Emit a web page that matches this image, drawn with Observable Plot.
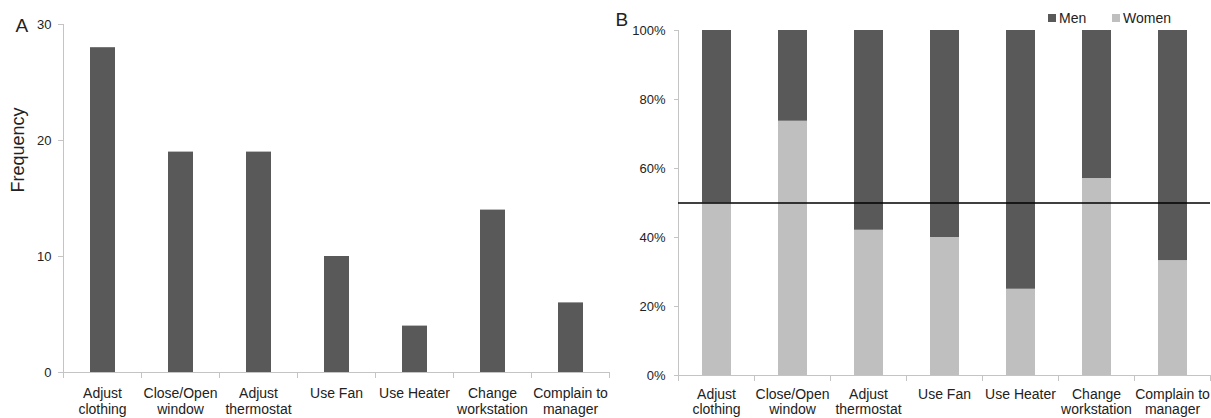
<!DOCTYPE html>
<html>
<head>
<meta charset="utf-8">
<script src="https://cdn.jsdelivr.net/npm/d3@7"></script>
<script src="https://cdn.jsdelivr.net/npm/@observablehq/plot@0.6"></script>
<style>
  html, body { margin: 0; padding: 0; background: #fff; }
  #wrap { position: relative; width: 1211px; height: 418px; font-family: "Liberation Sans", Arial, sans-serif; }
  #wrap svg { position: absolute; top: 0; font-family: "Liberation Sans", Arial, sans-serif; }
  .leg { position: absolute; top: 9px; font-size: 14px; color: #222; line-height: 18px; white-space: nowrap; }
  .sw { display: inline-block; width: 8px; height: 8px; margin-right: 3px; vertical-align: 1px; }
</style>
</head>
<body>
<div id="wrap"></div>
<script>
// ---- data ----
const categories = ["Adjust clothing", "Close/Open window", "Adjust thermostat", "Use Fan", "Use Heater", "Change workstation", "Complain to manager"];
const categoryLabels = ["Adjust\nclothing", "Close/Open\nwindow", "Adjust\nthermostat", "Use Fan", "Use Heater", "Change\nworkstation", "Complain to\nmanager"];
const frequency = [28, 19, 19, 10, 4, 14, 6];
const womenPct = [50, 73.7, 42.1, 40, 25, 57.1, 33.3];
const menPct = [50, 26.3, 57.9, 60, 75, 42.9, 66.7];
const freqTicks = [0, 10, 20, 30];
const pctTicks = [0, 20, 40, 60, 80, 100];
const seriesNames = ["Men", "Women"];
const seriesColors = ["#595959", "#bfbfbf"];

const axisGray = "#c4c4c4";
const textColor = "#222";
const labelMap = new Map(categories.map((c, i) => [c, categoryLabels[i]]));

const wrap = document.getElementById("wrap");

// ---- Panel A ----
const freqData = categories.map((c, i) => ({cat: c, value: frequency[i]}));
const lastCat = categories[categories.length - 1];

const plotA = Plot.plot({
  width: 620,
  height: 418,
  marginLeft: 63,
  marginRight: 11,
  marginTop: 24,
  marginBottom: 46,
  style: {fontSize: "13px", color: textColor, background: "transparent"},
  x: {domain: categories, padding: 0},
  y: {domain: [0, 30]},
  marks: [
    Plot.barY(freqData, {x: "cat", y: "value", fill: seriesColors[0], insetLeft: 27, insetRight: 26}),
    Plot.frame({anchor: "left", stroke: axisGray}),
    Plot.frame({anchor: "bottom", stroke: axisGray}),
    Plot.axisY({ticks: freqTicks, tickSize: 5, tickPadding: 7, stroke: axisGray, label: null, fill: textColor, fontSize: 13}),
    Plot.axisX({tickSize: 6, tickFormat: () => "", dx: -39, stroke: axisGray, label: null}),
    Plot.axisX({ticks: [lastCat], tickSize: 6, tickFormat: () => "", dx: 39, stroke: axisGray, label: null}),
    Plot.text(categories, {x: d => d, text: d => labelMap.get(d), frameAnchor: "bottom", dy: 14, lineAnchor: "top", lineHeight: 1.16, fontSize: 14, fill: textColor}),
    Plot.text(["A"], {frameAnchor: "top-left", dx: -48, dy: 1, textAnchor: "start", lineAnchor: "middle", fontSize: 19, fill: textColor}),
    Plot.text(["Frequency"], {frameAnchor: "left", dx: -45, dy: -6, rotate: -90, lineAnchor: "middle", fontSize: 18, fill: textColor})
  ]
});
plotA.style.left = "0px";
wrap.appendChild(plotA);

// ---- Panel B ----
const pctData = [];
categories.forEach((c, i) => {
  pctData.push({cat: c, sex: "Women", value: womenPct[i]});
  pctData.push({cat: c, sex: "Men", value: menPct[i]});
});

const plotB = Plot.plot({
  width: 611,
  height: 418,
  marginLeft: 78,
  marginRight: 1,
  marginTop: 30,
  marginBottom: 43,
  style: {fontSize: "13px", color: textColor, background: "transparent"},
  x: {domain: categories, padding: 0},
  y: {domain: [0, 100]},
  color: {domain: seriesNames, range: seriesColors},
  marks: [
    Plot.barY(pctData, {x: "cat", y: "value", fill: "sex", order: ["Women", "Men"], insetLeft: 24, insetRight: 23}),
    Plot.frame({anchor: "left", stroke: axisGray}),
    Plot.frame({anchor: "bottom", stroke: axisGray}),
    Plot.axisY({ticks: pctTicks, tickFormat: d => d + "%", tickSize: 4, tickPadding: 9, stroke: axisGray, label: null, fill: textColor, fontSize: 13}),
    Plot.axisX({tickSize: 6, tickFormat: () => "", dx: -38, stroke: axisGray, label: null}),
    Plot.axisX({ticks: [lastCat], tickSize: 6, tickFormat: () => "", dx: 38, stroke: axisGray, label: null}),
    Plot.ruleY([50], {stroke: "#000", strokeWidth: 1.6}),
    Plot.text(categories, {x: d => d, text: d => labelMap.get(d), frameAnchor: "bottom", dy: 12, lineAnchor: "top", lineHeight: 1.12, fontSize: 14, fill: textColor}),
    Plot.text(["B"], {frameAnchor: "top-left", dx: -63, dy: -11, textAnchor: "start", lineAnchor: "middle", fontSize: 19, fill: textColor})
  ]
});
plotB.style.left = "600px";
wrap.appendChild(plotB);

// ---- Legend ----
const legendX = [1048, 1112];
seriesNames.forEach((name, i) => {
  const d = document.createElement("div");
  d.className = "leg";
  d.style.left = legendX[i] + "px";
  const sw = document.createElement("span");
  sw.className = "sw";
  sw.style.background = seriesColors[i];
  d.appendChild(sw);
  d.appendChild(document.createTextNode(name));
  wrap.appendChild(d);
});
</script>
</body>
</html>
